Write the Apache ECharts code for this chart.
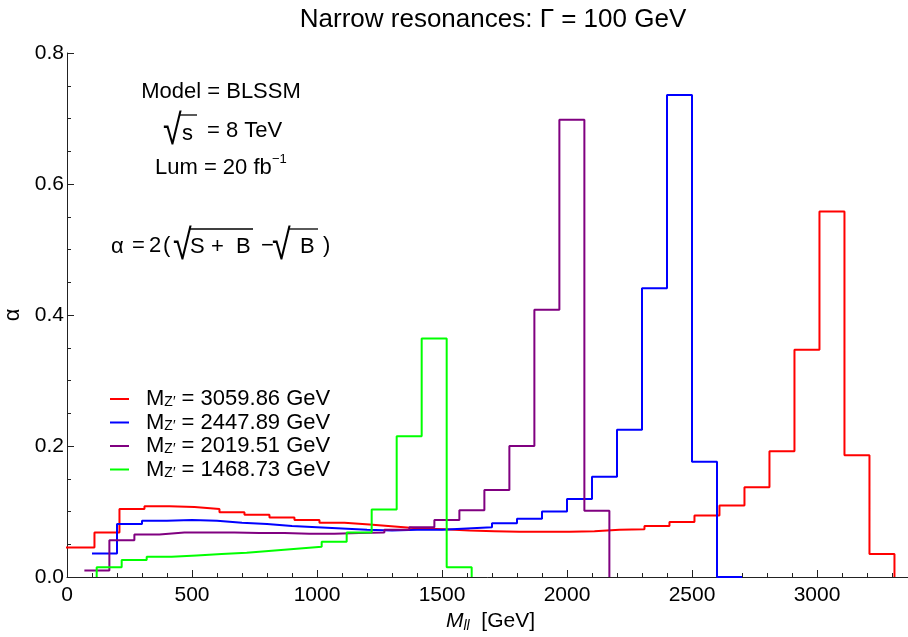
<!DOCTYPE html>
<html>
<head>
<meta charset="utf-8">
<script src="https://cdn.jsdelivr.net/npm/echarts@6/dist/echarts.min.js"></script>
<style>
  html, body { margin: 0; padding: 0; background: #fff; }
  #chart { width: 908px; height: 637px; }
</style>
</head>
<body>
<div id="chart"></div>
<script>
// bin width of every histogram (GeV)
const binWidth = 100
// legend labels: Z' masses
const masses = ['3059.86', '2447.89', '2019.51', '1468.73']
const colors = ['#ff0000', '#0000ff', '#800080', '#00ff00']

// left edge of the first bin of each histogram
const redStart = -90.14
const blueStart = 100
const purpleStart = 69.51
const greenStart = 118.73

// alpha per bin
const redValues = [0.045, 0.045, 0.068, 0.104, 0.108, 0.107, 0.104, 0.099, 0.095, 0.091,
  0.087, 0.083, 0.080, 0.077, 0.074, 0.073, 0.071, 0.070, 0.069, 0.069,
  0.069, 0.070, 0.072, 0.073, 0.078, 0.084, 0.094, 0.109, 0.137, 0.192,
  0.347, 0.558, 0.186, 0.035]
const blueValues = [0.036, 0.081, 0.086, 0.087, 0.086, 0.083, 0.081, 0.078, 0.076, 0.074,
  0.072, 0.071, 0.072, 0.072, 0.074, 0.076, 0.082, 0.089, 0.100, 0.119,
  0.153, 0.225, 0.441, 0.736, 0.176, 0]
const purpleValues = [0.010, 0.056, 0.065, 0.068, 0.068, 0.068, 0.067, 0.067, 0.066, 0.066,
  0.067, 0.068, 0.072, 0.076, 0.087, 0.102, 0.133, 0.200, 0.408, 0.698, 0.101]
const greenValues = [0.015, 0.026, 0.031, 0.033, 0.035, 0.037, 0.040, 0.043, 0.046, 0.054,
  0.068, 0.103, 0.215, 0.364, 0.015]

const FONT = '"Liberation Sans", Arial, Helvetica, sans-serif'

// turn bin values into points for a step line (step: 'end')
function steps(start, values, fromZero) {
  let pts = []
  if (fromZero) pts.push([start, 0])
  values.forEach((v, i) => pts.push([start + i * binWidth, v]))
  pts.push([start + values.length * binWidth, 0])
  return pts
}

const hists = [
  steps(redStart, redValues, false),
  steps(blueStart, blueValues, false),
  steps(purpleStart, purpleValues, false),
  steps(greenStart, greenValues, true),
]

const names = masses.map(m => 'M_Z = ' + m + ' GeV')

let chart = echarts.init(document.getElementById('chart'))

// small helper for the free text in the plot
function txt(text, x, y, size, align, extra) {
  let el = {
    type: 'text', x: x, y: y, z: 10,
    style: {
      text: text, fill: '#000', fontSize: size, fontFamily: FONT,
      align: align || 'left', verticalAlign: 'middle',
      textAlign: align || 'left', textVerticalAlign: 'middle'
    }
  }
  return Object.assign(el, extra || {})
}
// radical sign, stretched to match the tall Mathematica one
function root(x, y) {
  return txt('√', x, y, 34, 'left', { scaleY: 1.25 })
}
function bar(x1, x2, y) {
  return { type: 'line', z: 10, shape: { x1: x1, y1: y, x2: x2, y2: y }, style: { stroke: '#000', lineWidth: 1.3 } }
}

let option = {
  animation: false,
  backgroundColor: '#fff',
  grid: { left: 67, right: -34, top: 53, bottom: 60, outerBoundsMode: 'none', containLabel: false },
  legend: {
    orient: 'vertical',
    left: 110, top: 388,
    padding: 0,
    itemGap: 1.5,
    icon: 'rect',
    itemWidth: 19, itemHeight: 2,
    data: names,
    formatter: function (name) {
      let m = name.split(' = ')[1]
      return '{m|M}{z|Z′}{t| = ' + m + '}'
    },
    textStyle: {
      color: '#000',
      fontFamily: FONT,
      padding: [0, 0, 0, 12],
      rich: {
        m: { fontSize: 22, lineHeight: 21, fontFamily: FONT, color: '#000' },
        z: { fontSize: 14, lineHeight: 12, verticalAlign: 'bottom', fontFamily: FONT, color: '#000' },
        t: { fontSize: 22, lineHeight: 21, fontFamily: FONT, color: '#000' },
      },
    },
  },
  xAxis: {
    type: 'value',
    min: 0, max: 3500, interval: 500,
    name: '{i|M}{s|ll}{t|  [GeV]}',
    nameLocation: 'middle',
    nameGap: 30,
    nameTextStyle: {
      padding: [0, 28, 0, 0],
      rich: {
        i: { fontSize: 21, fontStyle: 'italic', lineHeight: 24, fontFamily: FONT, color: '#000' },
        s: { fontSize: 14, fontStyle: 'italic', lineHeight: 12, verticalAlign: 'bottom', fontFamily: FONT, color: '#000' },
        t: { fontSize: 21, lineHeight: 24, fontFamily: FONT, color: '#000' },
      },
    },
    axisLine: { lineStyle: { color: '#222', width: 1 } },
    axisTick: { inside: true, length: 7, lineStyle: { color: '#222' } },
    minorTick: { show: true, splitNumber: 5, length: 4, lineStyle: { color: '#222' } },
    axisLabel: { color: '#000', fontSize: 21, fontFamily: FONT, margin: 8, formatter: v => String(v) },
    splitLine: { show: false },
  },
  yAxis: {
    type: 'value',
    min: 0, max: 0.8, interval: 0.2,
    name: 'α',
    nameLocation: 'middle',
    nameRotate: 90,
    nameGap: 38,
    nameTextStyle: { fontSize: 22, fontFamily: FONT, color: '#000' },
    axisLine: { show: true, lineStyle: { color: '#222', width: 1 } },
    axisTick: { show: true, inside: true, length: 7, lineStyle: { color: '#222' } },
    minorTick: { show: true, splitNumber: 4, length: 4, lineStyle: { color: '#222' } },
    axisLabel: { color: '#000', fontSize: 21, fontFamily: FONT, margin: 3, formatter: v => v.toFixed(1) },
    splitLine: { show: false },
  },
  series: hists.map((d, i) => ({
    name: names[i],
    type: 'line',
    step: 'end',
    symbol: 'none',
    data: d,
    color: colors[i],
    lineStyle: { width: 2, color: colors[i] },
  })),
  graphic: [
    txt('Narrow resonances: Γ = 100 GeV', 493, 20, 26, 'center'),
    txt('Model = BLSSM', 221, 92, 22, 'center'),
    root(163, 132),
    txt('s', 182, 134, 22),
    bar(179, 197, 115),
    txt('= 8 TeV', 207, 131, 22),
    txt('Lum = 20 fb', 155, 168, 22),
    txt('−1', 272, 159, 13),
    txt('α', 111, 247, 22),
    txt('=', 132, 246, 22),
    txt('2', 149, 246, 22),
    txt('(', 163, 246, 22),
    root(173, 247),
    txt('S', 190, 247, 22),
    txt('+', 211, 247, 22),
    txt('B', 236, 247, 22),
    bar(190, 253, 229),
    txt('−', 261, 246, 22),
    root(272, 247),
    txt('B', 300, 247, 22),
    bar(289, 318, 229),
    txt(')', 323, 246, 22),
  ],
}

chart.setOption(option)
</script>
</body>
</html>
